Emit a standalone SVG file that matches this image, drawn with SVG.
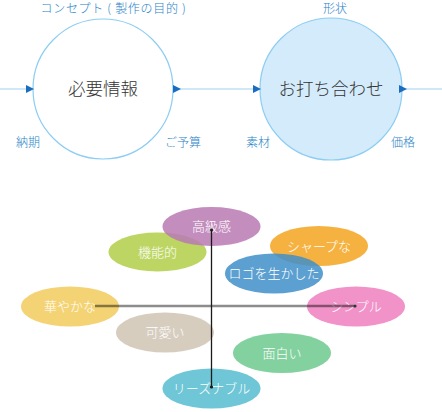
<svg xmlns="http://www.w3.org/2000/svg" width="442" height="412" viewBox="0 0 442 412">
<defs>
<style>
text{font-family:"Noto Sans CJK JP","Noto Sans",sans-serif;text-anchor:middle;font-weight:300}
.lbl{font-size:12px;fill:#2a84c8}
.main{font-size:17.5px;fill:#333}
.ov{font-size:13px;fill:#fff}
.flow{stroke:#9fd0ef;stroke-width:1;fill:none}
.el{opacity:0.85}
</style>
<marker id="ah" viewBox="0 0 8 8" refX="8" refY="4" markerWidth="8" markerHeight="8" markerUnits="userSpaceOnUse" orient="auto">
<path d="M0,0 L8,4 L0,8 Z" fill="#1a6cbf"/>
</marker>
</defs>
<rect width="442" height="412" fill="#fff"/>

<g id="node-hitsuyou">
<circle cx="103" cy="89" r="70" fill="#fff" stroke="#8ccdf2" stroke-width="1.2"/>
<text class="main" x="103" y="95">必要情報</text>
<text class="lbl" x="113.5" y="13" letter-spacing="0.7">コンセプト ( 製作の目的 )</text>
<text class="lbl" x="28" y="147">納期</text>
<text class="lbl" x="183" y="147">ご予算</text>
</g>

<g id="node-uchiawase">
<circle cx="331" cy="89" r="71" fill="#d3ebfa" stroke="#8ccdf2" stroke-width="1.2"/>
<text class="main" x="331" y="95">お打ち合わせ</text>
<text class="lbl" x="335" y="13">形状</text>
<text class="lbl" x="258" y="147">素材</text>
<text class="lbl" x="403" y="147">価格</text>
</g>

<g id="ellipses">
<g id="node-kinouteki"><ellipse class="el" cx="157.5" cy="252" rx="49" ry="19.5" fill="#b2cf48"/><text class="ov" x="157.5" y="256.5">機能的</text></g>
<g id="node-koukyuukan"><ellipse class="el" cx="211.5" cy="226.5" rx="49" ry="19.5" fill="#b979b3"/><text class="ov" x="211.5" y="231">高級感</text></g>
<g id="node-sharp"><ellipse class="el" cx="319" cy="246" rx="49" ry="20" fill="#f4a41f"/><text class="ov" x="319" y="250.5">シャープな</text></g>
<g id="node-logo"><ellipse class="el" cx="274" cy="273.5" rx="49" ry="20" fill="#3f8ec9"/><text class="ov" x="274" y="278">ロゴを生かした</text></g>
<g id="node-hanayaka"><ellipse class="el" cx="70" cy="306.5" rx="49" ry="20" fill="#f2cb5c"/><text class="ov" x="70" y="311">華やかな</text></g>
<g id="node-simple"><ellipse class="el" cx="356" cy="306.5" rx="49" ry="20" fill="#ef7fbf"/><text class="ov" x="356" y="311">シンプル</text></g>
<g id="node-kawaii"><ellipse class="el" cx="165" cy="332.5" rx="49" ry="20" fill="#cfc4b4"/><text class="ov" x="165" y="337">可愛い</text></g>
<g id="node-omoshiroi"><ellipse class="el" cx="282" cy="353" rx="49" ry="20" fill="#6cc98d"/><text class="ov" x="282" y="357.5">面白い</text></g>
<g id="node-reasonable"><ellipse class="el" cx="211.5" cy="388.5" rx="49" ry="20" fill="#55bccf"/><text class="ov" x="211.5" y="393">リーズナブル</text></g>
</g>

<g id="connectors">
<line class="flow" x1="0" y1="89" x2="34" y2="89" marker-end="url(#ah)"/>
<line class="flow" x1="173" y1="89" x2="181" y2="89" marker-end="url(#ah)"/>
<line class="flow" x1="181" y1="89" x2="261" y2="89" marker-end="url(#ah)"/>
<line class="flow" x1="400" y1="89" x2="407" y2="89" marker-end="url(#ah)"/>
<line class="flow" x1="407" y1="89" x2="442" y2="89"/>
<line x1="95" y1="306" x2="355" y2="306" stroke="#000" stroke-opacity="0.45" stroke-width="2.4"/>
<circle cx="355" cy="306" r="1.6" fill="#333"/>
<line x1="211.5" y1="230" x2="211.5" y2="387" stroke="#1a1a1a" stroke-width="1.3"/>
<circle cx="211.5" cy="230" r="1.5" fill="#1a1a1a"/>
<circle cx="211.5" cy="387" r="1.6" fill="#1a1a1a"/>
</g>
</svg>
